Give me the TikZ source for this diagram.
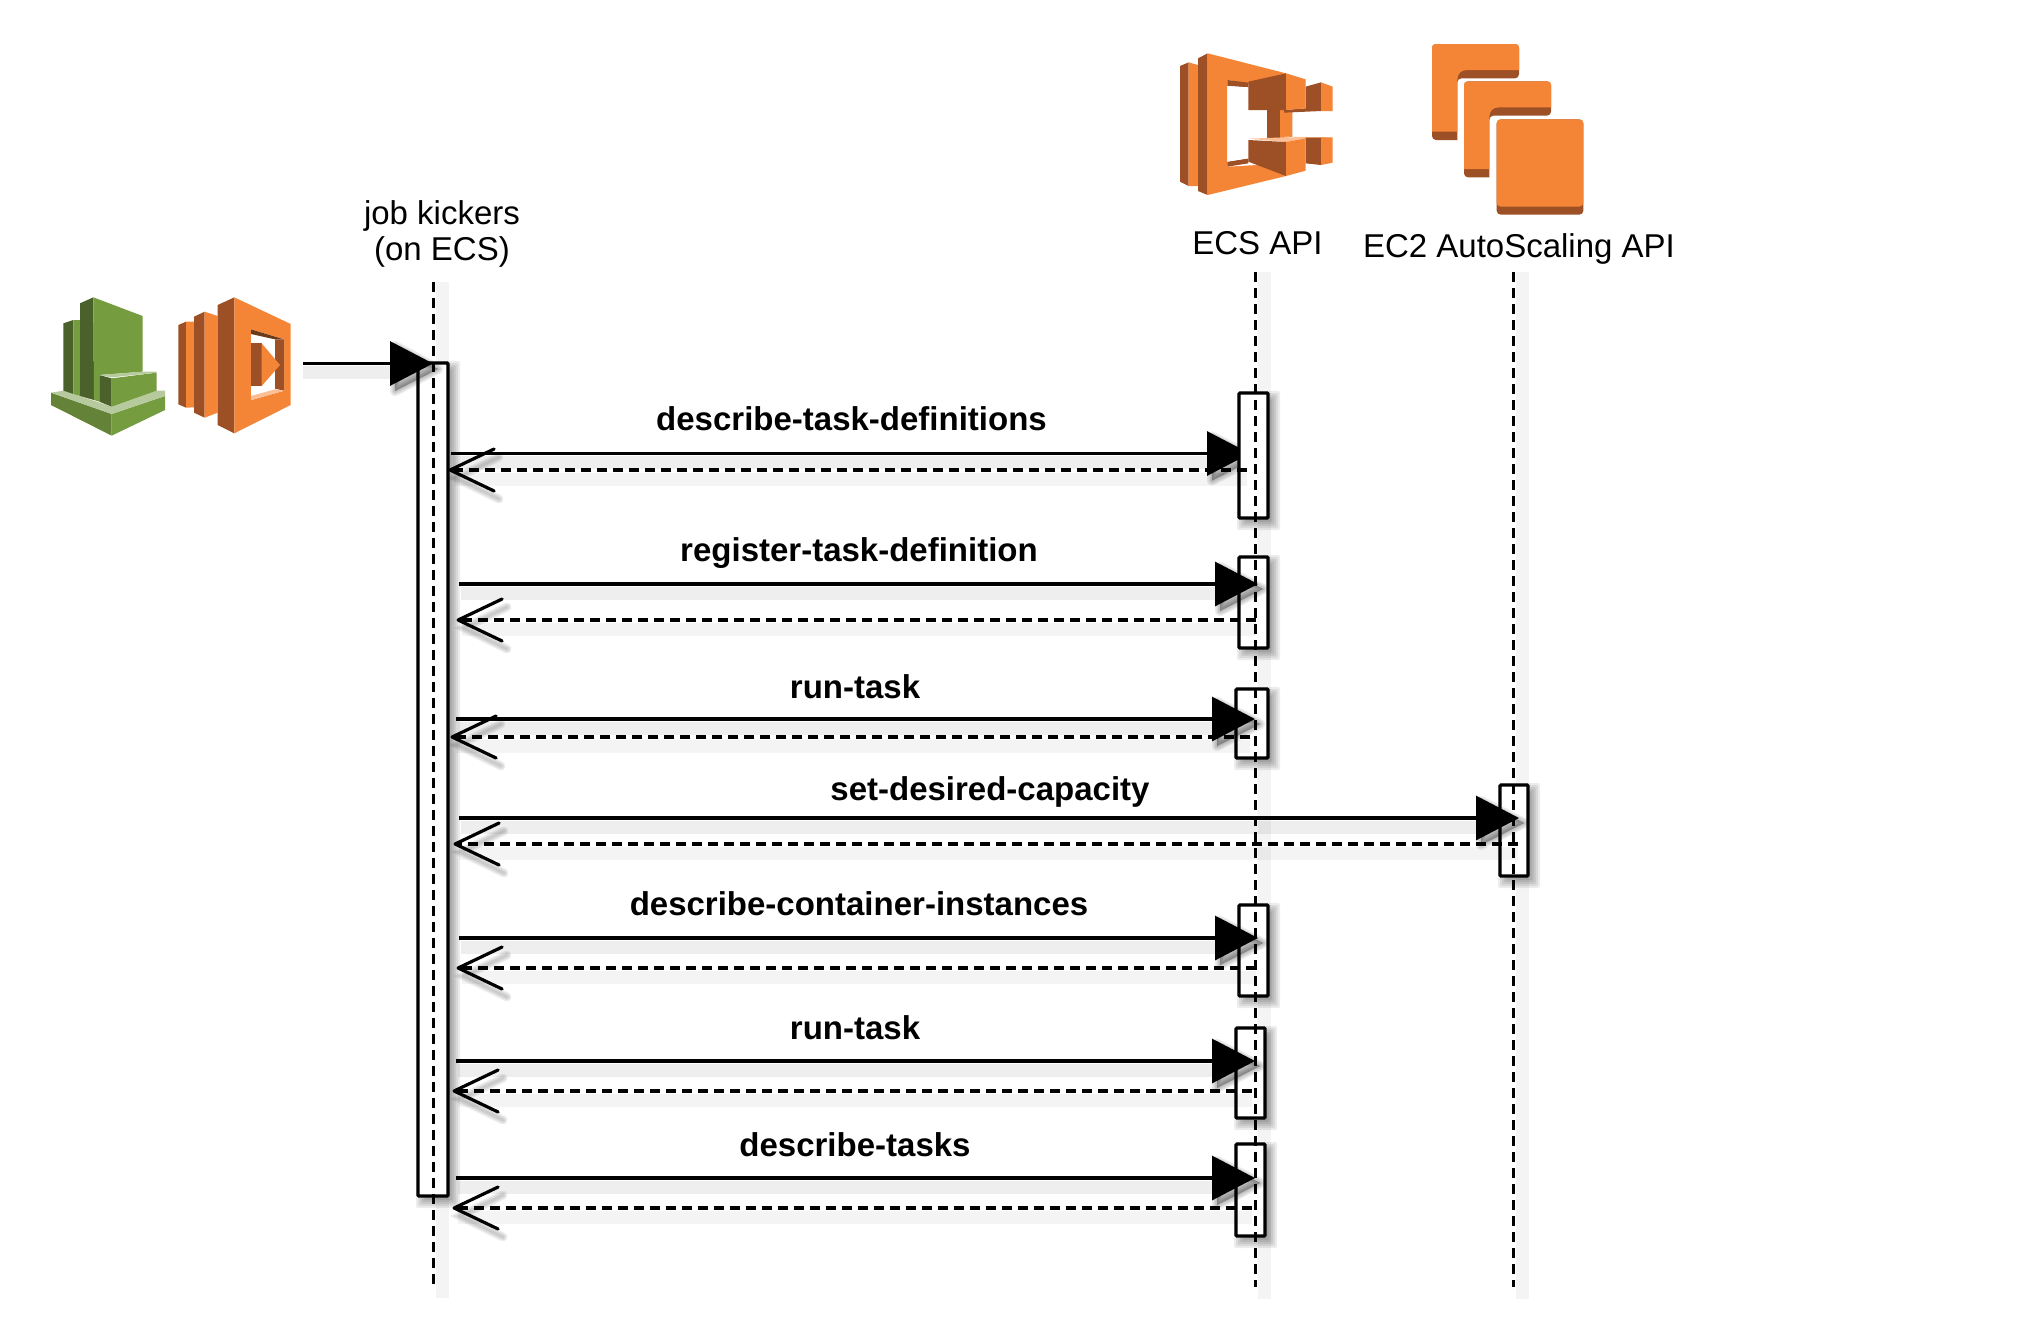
\documentclass[tikz,border=0pt]{standalone}
\usepackage{fontspec}
\setmainfont{Liberation Sans}
\usetikzlibrary{arrows.meta,fit}
\definecolor{orangeM}{HTML}{F58536}
\definecolor{orangeD}{HTML}{9D5025}
\definecolor{orangeL}{HTML}{FBBF93}
\definecolor{orangeX}{HTML}{6B3A19}
\definecolor{greenM}{HTML}{759C3E}
\definecolor{greenD}{HTML}{4B612C}
\definecolor{greenB}{HTML}{648339}
\definecolor{greenL}{HTML}{B7CA9D}
\tikzset{
  lifeline/.style={line width=1.6pt,dash pattern=on 5pt off 3pt},
  lifeband/.style={line width=6.5pt,black,opacity=.045},
  actbox/.style={draw=black,fill=white,line width=1.6pt,inner sep=0pt,rounded corners=.5pt},
  callmsg/.style={line width=1.6pt,-{Triangle[length=21.5pt,width=22pt]}},
  retmsg/.style={line width=1.6pt,dash pattern=on 5pt off 3pt,-{Straight Barb[length=22pt,width=21pt,round,line width=1.6pt]}},
  callband/.style={line width=6.5pt,black,opacity=.065},
  retband/.style={line width=6.5pt,black,opacity=.045},
  headtext/.style={anchor=base,inner sep=0pt,font=\fontsize{16.5}{18}\selectfont,align=center},
  msgtext/.style={anchor=base,inner sep=0pt,font=\fontsize{16.5}{18}\selectfont\bfseries}
}
% activation bar: soft shadow, then a named box
\newcommand{\actbar}[5]{%
  \foreach \e in {-5,-3,-1,1,3,5,7}{%
    \fill[black,opacity=.075,rounded corners=1pt] (#2+5-\e,#3+5-\e) rectangle (#4+5+\e,#5+5+\e);}%
  \node[actbox,fit={(#2,#3)(#4,#5)}] (#1) {};}
% call message: band, head shadow, arrow between named coordinates
\newcommand{\callarrow}[4]{%
  \coordinate (#1s) at (#3,#2);
  \coordinate (#1t) at (#4,#2);
  \draw[callband] (#3+2,#2+9) -- (#4-35,#2+9);
  \foreach \w in {10,7,4,1}{%
    \filldraw[black,opacity=.08,line width=\w*.5pt,line join=round] (#4-43+5,#2-22+5) -- (#4+5,#2+5) -- (#4-43+5,#2+22+5) -- cycle;}
  \draw[callmsg] (#1s) -- (#1t);}
% return message: band, arm shadows, dashed arrow between named coordinates
\newcommand{\retarrow}[4]{%
  \coordinate (#1s) at (#3,#2);
  \coordinate (#1t) at (#4-2.5,#2);
  \draw[retband] (#3,#2+9) -- (#4+3,#2+9);
  \foreach \w in {9,6,3}{%
    \draw[black,opacity=.07,line width=\w*.5pt,line cap=round] (#4+41+7,#2-21+8) -- (#4+5,#2+8) -- (#4+41+7,#2+21+8);}
  \draw[retmsg] (#1s) -- (#1t);}
\begin{document}
\begin{tikzpicture}[x=.5pt,y=-.5pt]
\useasboundingbox (0,0) rectangle (2044,1324);
\fill[white] (0,0) rectangle (2044,1324);

% lifeline ends
\coordinate (jobtop) at (433.5,282); \coordinate (jobbot) at (433.5,1286);
\coordinate (ecstop) at (1255.5,272); \coordinate (ecsbot) at (1255.5,1287);
\coordinate (ectop) at (1513.5,272); \coordinate (ecbot) at (1513.5,1287);

% lifeline shadows
\draw[lifeband] ([xshift=4.25pt]jobtop) -- ([xshift=4.25pt,yshift=-6pt]jobbot);
\draw[lifeband] ([xshift=4.25pt]ecstop) -- ([xshift=4.25pt,yshift=-6pt]ecsbot);
\draw[lifeband] ([xshift=4.25pt]ectop) -- ([xshift=4.25pt,yshift=-6pt]ecbot);

% first call passes under its bar
\callarrow{mA}{453.5}{451}{1250}

% bars
\actbar{job}{418}{363}{448}{1196}
\actbar{ecsA}{1239}{393}{1268}{518}
\actbar{ecsB}{1239}{557}{1268}{648}
\actbar{ecsC}{1236}{689}{1268}{758}
\actbar{ecA}{1500}{785}{1528}{876}
\actbar{ecsD}{1239}{905}{1268}{996}
\actbar{ecsE}{1236}{1028}{1265}{1118}
\actbar{ecsF}{1236}{1144}{1265}{1236}

% lifelines
\draw[lifeline] (jobtop) -- (jobbot);
\draw[lifeline] (ecstop) -- (ecsbot);
\draw[lifeline] (ectop) -- (ecbot);

% kick arrow
\coordinate (kick) at (303,363.5);
\coordinate (kickt) at (433,363.5);
\draw[callband] (303,372.5) -- (398,372.5);
\foreach \w in {10,7,4,1}{%
  \filldraw[black,opacity=.08,line width=\w*.5pt,line join=round] (395,346) -- (438,369) -- (395,391) -- cycle;}
\draw[callmsg] (kick) -- (kickt);

% messages
\retarrow{rA}{470}{1247}{451}
\callarrow{mB}{584}{459}{1258}
\retarrow{rB}{620}{1256}{459}
\callarrow{mC}{719}{456}{1255}
\retarrow{rC}{737}{1250}{453}
\callarrow{mD}{818}{459}{1519}
\retarrow{rD}{844}{1518}{456}
\callarrow{mE}{938}{459}{1258}
\retarrow{rE}{968}{1256}{459}
\callarrow{mF}{1061}{456}{1255}
\retarrow{rF}{1091}{1252}{455}
\callarrow{mG}{1178}{456}{1255}
\retarrow{rG}{1208}{1252}{455}

% message labels
\node[msgtext] (lA) at (851.5,430.5) {describe-task-definitions};
\node[msgtext] (lB) at (859,561) {register-task-definition};
\node[msgtext] (lC) at (855,698) {run-task};
\node[msgtext] (lD) at (990,800) {set-desired-capacity};
\node[msgtext] (lE) at (859,915) {describe-container-instances};
\node[msgtext] (lF) at (855,1039) {run-task};
\node[msgtext] (lG) at (855,1156) {describe-tasks};

% lifeline heads
\node[headtext] (jobhead) at (442,224) {job kickers};
\node[headtext] (jobhead2) at (442,260.5) {(on ECS)};
\node[headtext] (ecshead) at (1257.5,254) {ECS API};
\node[headtext] (echead) at (1519,257.5) {EC2 AutoScaling API};

% CloudWatch icon
\begin{scope}[shift={(30,270)},scale=1/3]
\fill[greenB] (63,368) -- (63,405) -- (245,497) -- (245,432) -- cycle;
\fill[greenM] (245,432) -- (245,497) -- (405,420) -- (405,378) -- cycle;
\fill[greenL] (63,368) -- (100,362) -- (245,410) -- (380,362) -- (405,362) -- (405,378) -- (245,432) -- cycle;
\fill[greenD] (100,160) -- (130,150) -- (130,372) -- (100,362) -- cycle;
\fill[greenM] (130,150) -- (150,150) -- (150,378) -- (130,372) -- cycle;
\fill[greenD] (150,100) -- (190,82) -- (192,390) -- (150,378) -- cycle;
\fill[greenM] (190,82) -- (338,138) -- (338,305) -- (208,315) -- (208,395) -- (192,390) -- cycle;
\fill[greenD] (208,315) -- (245,325) -- (245,410) -- (208,395) -- cycle;
\fill[greenM] (245,325) -- (380,308) -- (380,362) -- (245,410) -- cycle;
\fill[greenL] (208,315) -- (338,305) -- (380,305) -- (380,308) -- (245,322) -- cycle;
% Lambda icon
\fill[orangeD] (445,165) -- (468,155) -- (468,413) -- (445,403) -- cycle;
\fill[orangeM] (468,155) -- (492,155) -- (492,412) -- (468,413) -- cycle;
\fill[orangeD] (492,140) -- (524,125) -- (524,443) -- (492,428) -- cycle;
\fill[orangeM] (524,125) -- (563,138) -- (563,428) -- (524,443) -- cycle;
\fill[orangeD] (563,105) -- (613,82) -- (613,490) -- (563,465) -- cycle;
\fill[orangeM] (613,82) -- (782,162) -- (782,405) -- (613,490) -- cycle;
\fill[white] (663,178) -- (762,208) -- (762,362) -- (663,390) -- cycle;
\fill[orangeX] (663,178) -- (762,208) -- (735,208) -- (663,192) -- cycle;
\fill[orangeD] (735,208) -- (762,208) -- (762,362) -- (735,356) -- cycle;
\fill[orangeL] (663,378) -- (735,358) -- (762,362) -- (663,390) -- cycle;
\fill[orangeD] (663,220) -- (695,220) -- (695,348) -- (663,348) -- cycle;
\fill[orangeM] (695,220) -- (750,285) -- (695,348) -- cycle;
\end{scope}

% ECS icon
\begin{scope}[shift={(1160,30)},scale=1/3]
\fill[orangeD] (60,108) -- (86,97) -- (86,468) -- (60,455) -- cycle;
\fill[orangeM] (86,97) -- (114,105) -- (114,468) -- (86,468) -- cycle;
\fill[orangeD] (114,85) -- (143,70) -- (143,495) -- (114,483) -- cycle;
\fill[orangeM] (143,70) -- (378,130) -- (378,438) -- (143,495) -- cycle;
\fill[white] (202,150) -- (378,180) -- (378,400) -- (202,410) -- cycle;
\fill[orangeD] (202,150) -- (265,158) -- (265,172) -- (202,168) -- cycle;
\fill[orangeD] (202,395) -- (265,385) -- (265,400) -- (202,410) -- cycle;
\fill[white] (202,168) -- (265,172) -- (265,385) -- (202,395) -- cycle;
\fill[orangeD] (320,240) -- (360,240) -- (360,325) -- (320,325) -- cycle;
\fill[orangeM] (360,240) -- (397,240) -- (397,320) -- (360,325) -- cycle;
\fill[orangeD] (372,240) -- (437,235) -- (437,170) -- (483,157) -- (483,243) -- (372,248) -- cycle;
\fill[orangeM] (483,157) -- (518,170) -- (518,243) -- (483,243) -- cycle;
\fill[orangeL] (372,320) -- (518,322) -- (483,324) -- (437,327) -- cycle;
\fill[orangeD] (437,323) -- (483,323) -- (483,405) -- (437,400) -- cycle;
\fill[orangeM] (483,322) -- (518,322) -- (518,398) -- (483,405) -- cycle;
\fill[orangeD] (265,155) -- (378,130) -- (378,240) -- (265,240) -- cycle;
\fill[orangeM] (378,130) -- (437,148) -- (437,235) -- (378,240) -- cycle;
\fill[orangeL] (265,326) -- (375,322) -- (437,325) -- (378,336) -- cycle;
\fill[orangeD] (265,330) -- (378,336) -- (378,438) -- (265,395) -- cycle;
\fill[orangeM] (378,336) -- (437,325) -- (437,422) -- (378,438) -- cycle;
% EC2 Auto Scaling icon
\foreach \dx/\dy in {0/0,96/112}{
\begin{scope}[shift={(\dx,\dy)}]
\fill[orangeD,rounded corners=2pt] (816,42) -- (1077,42) -- (1077,145) -- (892,145) [sharp corners] -- (892,330) [rounded corners=2pt] -- (816,330) -- cycle;
\fill[orangeM] (826,42) -- (1067,42) .. controls (1073,42) and (1077,46) .. (1077,52) -- (1077,120) -- (922,120) .. controls (903,120) and (892,130) .. (892,150) -- (892,305) -- (816,305) -- (816,52) .. controls (816,46) and (820,42) .. (826,42) -- cycle;
\end{scope}}
\fill[orangeD,rounded corners=2pt] (1010,268) rectangle (1270,554);
\fill[orangeM,rounded corners=2pt] (1010,268) rectangle (1270,530);
\end{scope}
\end{tikzpicture}
\end{document}
